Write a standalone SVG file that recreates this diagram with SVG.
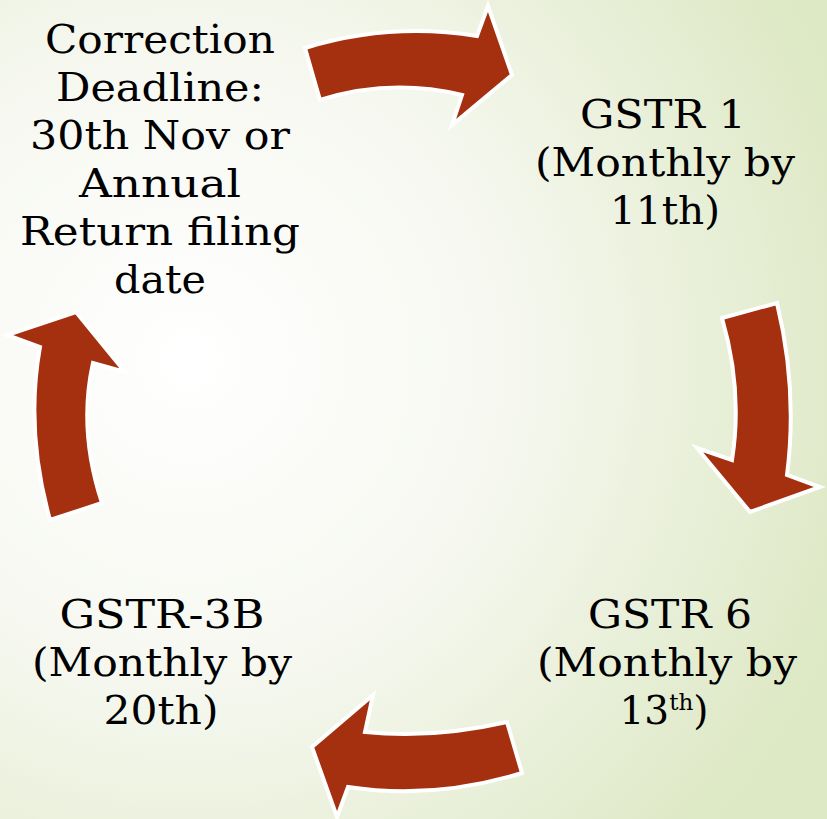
<svg xmlns="http://www.w3.org/2000/svg" width="827" height="819" viewBox="0 0 827 819">
<defs>
<radialGradient id="bg" gradientUnits="userSpaceOnUse" cx="190" cy="360" r="700">
<stop offset="0" stop-color="#ffffff"/>
<stop offset="0.45" stop-color="#f6f8f0"/>
<stop offset="1" stop-color="#dde8c4"/>
</radialGradient>
<style>
.arr{fill:#a5300f;stroke:#ffffff;stroke-width:4;stroke-linejoin:miter}
.t{font-family:"DejaVu Serif","Liberation Serif",serif;font-size:39px;fill:#000;text-anchor:middle}
.sup{font-size:23px}
</style>
</defs>
<rect width="827" height="819" fill="url(#bg)"/>
<g id="connectors">
<path class="arr" d="M305,48 Q390,22 477,36 L488,6 L512,75 L452,125 L462,95 Q390,78 320,100 Z"/>
<path class="arr" d="M722,318 L777,303 Q798,390 787,475 L820,487 L750,512 L697,448 L732,460 Q743,390 722,318 Z"/>
<path class="arr" d="M507,722 Q433,739 365,732 L373,695 L312,747 L337,817 L348,787 Q433,800 522,773 Z"/>
<path class="arr" d="M50,520 Q25,430 40,347 L7,335 L76,312 L125,372 L93,363 Q78,430 102,503 Z"/>
</g>
<g id="node-correction">
<text class="t" x="160" y="53" textLength="230" lengthAdjust="spacingAndGlyphs">Correction</text>
<text class="t" x="160" y="101" textLength="208" lengthAdjust="spacingAndGlyphs">Deadline:</text>
<text class="t" x="160" y="149" textLength="260" lengthAdjust="spacingAndGlyphs">30th Nov or</text>
<text class="t" x="160" y="197" textLength="162" lengthAdjust="spacingAndGlyphs">Annual</text>
<text class="t" x="160" y="245" textLength="280" lengthAdjust="spacingAndGlyphs">Return filing</text>
<text class="t" x="160" y="293" textLength="92" lengthAdjust="spacingAndGlyphs">date</text>
</g>
<g id="node-gstr1">
<text class="t" x="663" y="128" textLength="166" lengthAdjust="spacingAndGlyphs">GSTR 1</text>
<text class="t" x="665" y="176" textLength="260" lengthAdjust="spacingAndGlyphs">(Monthly by</text>
<text class="t" x="665" y="224" textLength="110" lengthAdjust="spacingAndGlyphs">11th)</text>
</g>
<g id="node-gstr6">
<text class="t" x="670" y="628" textLength="164" lengthAdjust="spacingAndGlyphs">GSTR 6</text>
<text class="t" x="667" y="676" textLength="260" lengthAdjust="spacingAndGlyphs">(Monthly by</text>
<text class="t" x="664" y="724">13<tspan class="sup" dy="-14">th</tspan><tspan dy="14">)</tspan></text>
</g>
<g id="node-gstr3b">
<text class="t" x="162" y="628" textLength="205" lengthAdjust="spacingAndGlyphs">GSTR-3B</text>
<text class="t" x="162" y="676" textLength="260" lengthAdjust="spacingAndGlyphs">(Monthly by</text>
<text class="t" x="161" y="724" textLength="115" lengthAdjust="spacingAndGlyphs">20th)</text>
</g>
</svg>
